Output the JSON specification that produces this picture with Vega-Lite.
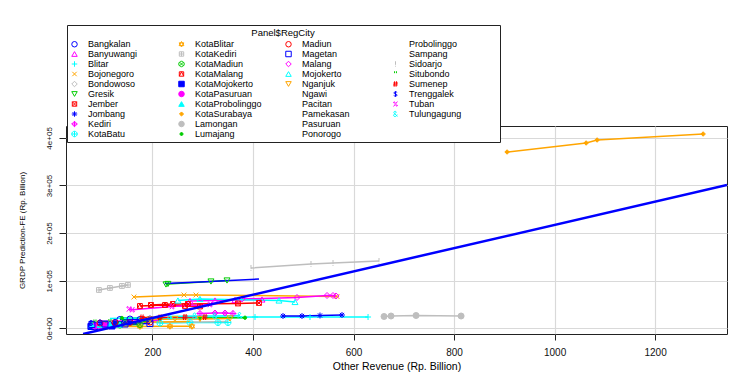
{
  "$schema": "https://vega.github.io/schema/vega-lite/v6.json",
  "width": 661,
  "height": 208,
  "autosize": "none",
  "padding": {"left": 66, "top": 126, "right": 18, "bottom": 42},
  "background": "white",
  "config": {
    "view": {"stroke": "#222", "strokeWidth": 1},
    "font": "Liberation Sans",
    "axis": {"gridColor": "#D9D9D9", "gridWidth": 1.2, "domain": false, "tickColor": "#222", "labelColor": "#111", "titleColor": "#000", "titleFontWeight": "normal", "labelFont": "Liberation Sans", "titleFont": "Liberation Sans"}
  },
  "datasets": {
    "d": [
      {"c": "Bangkalan", "x": 135.3, "y": 18500}, {"c": "Bangkalan", "x": 155.2, "y": 19500}, {"c": "Bangkalan", "x": 175.1, "y": 18500}, {"c": "Bangkalan", "x": 195, "y": 19500},
      {"c": "Banyuwangi", "x": 274.6, "y": 57400}, {"c": "Banyuwangi", "x": 324.4, "y": 58400}, {"c": "Banyuwangi", "x": 364.2, "y": 59500}, {"c": "Banyuwangi", "x": 417.9, "y": 60500},
      {"c": "Blitar", "x": 294.5, "y": 22700}, {"c": "Blitar", "x": 404, "y": 23700}, {"c": "Blitar", "x": 513.4, "y": 23700}, {"c": "Blitar", "x": 628.9, "y": 23700},
      {"c": "Bojonegoro", "x": 163.2, "y": 65800}, {"c": "Bojonegoro", "x": 262.7, "y": 70000}, {"c": "Bojonegoro", "x": 286.6, "y": 70000}, {"c": "Bojonegoro", "x": 567.2, "y": 66800},
      {"c": "Bondowoso", "x": 85.6, "y": 10100}, {"c": "Bondowoso", "x": 115.4, "y": 11100}, {"c": "Bondowoso", "x": 145.3, "y": 11100}, {"c": "Bondowoso", "x": 175.1, "y": 12200},
      {"c": "Gresik", "x": 226.9, "y": 92000}, {"c": "Gresik", "x": 230.8, "y": 93100}, {"c": "Gresik", "x": 316.4, "y": 98300}, {"c": "Gresik", "x": 348.3, "y": 100400},
      {"c": "Jember", "x": 197, "y": 49000}, {"c": "Jember", "x": 240.8, "y": 51100}, {"c": "Jember", "x": 270.6, "y": 51100}, {"c": "Jember", "x": 370.1, "y": 52100}, {"c": "Jember", "x": 411.9, "y": 53200},
      {"c": "Jombang", "x": 459.7, "y": 25800}, {"c": "Jombang", "x": 497.5, "y": 25800}, {"c": "Jombang", "x": 533.3, "y": 26900}, {"c": "Jombang", "x": 577.1, "y": 27900},
      {"c": "Kediri", "x": 294.5, "y": 31100}, {"c": "Kediri", "x": 324.4, "y": 32100}, {"c": "Kediri", "x": 344.3, "y": 32100}, {"c": "Kediri", "x": 360.2, "y": 31100},
      {"c": "KotaBatu", "x": 214.9, "y": 11100}, {"c": "KotaBatu", "x": 274.6, "y": 12200}, {"c": "KotaBatu", "x": 330.3, "y": 12200}, {"c": "KotaBatu", "x": 350.2, "y": 12200},
      {"c": "KotaBlitar", "x": 109.5, "y": 3800}, {"c": "KotaBlitar", "x": 175.1, "y": 3800}, {"c": "KotaBlitar", "x": 234.8, "y": 4200}, {"c": "KotaBlitar", "x": 278.6, "y": 4200},
      {"c": "KotaKediri", "x": 93.5, "y": 80500}, {"c": "KotaKediri", "x": 115.4, "y": 84700}, {"c": "KotaKediri", "x": 139.3, "y": 88900}, {"c": "KotaKediri", "x": 151.2, "y": 91000},
      {"c": "KotaMadiun", "x": 79.6, "y": 5900}, {"c": "KotaMadiun", "x": 105.5, "y": 6900}, {"c": "KotaMadiun", "x": 135.3, "y": 6900}, {"c": "KotaMadiun", "x": 175.1, "y": 8000},
      {"c": "KotaMalang", "x": 175.1, "y": 46900}, {"c": "KotaMalang", "x": 224.9, "y": 49000}, {"c": "KotaMalang", "x": 264.7, "y": 46900}, {"c": "KotaMalang", "x": 294.5, "y": 45800},
      {"c": "KotaMojokerto", "x": 77.6, "y": 3800}, {"c": "KotaMojokerto", "x": 85.6, "y": 3800}, {"c": "KotaMojokerto", "x": 99.5, "y": 4800}, {"c": "KotaMojokerto", "x": 119.4, "y": 4800},
      {"c": "KotaPasuruan", "x": 85.6, "y": 4800}, {"c": "KotaPasuruan", "x": 95.5, "y": 4800}, {"c": "KotaPasuruan", "x": 103.5, "y": 5900}, {"c": "KotaPasuruan", "x": 111.4, "y": 5900},
      {"c": "KotaProbolinggo", "x": 79.6, "y": 6900}, {"c": "KotaProbolinggo", "x": 95.5, "y": 6900}, {"c": "KotaProbolinggo", "x": 115.4, "y": 8000}, {"c": "KotaProbolinggo", "x": 135.3, "y": 8000},
      {"c": "KotaSurabaya", "x": 905.5, "y": 370400}, {"c": "KotaSurabaya", "x": 1062.7, "y": 389300}, {"c": "KotaSurabaya", "x": 1084.6, "y": 395600}, {"c": "KotaSurabaya", "x": 1295.5, "y": 408200},
      {"c": "Lamongan", "x": 660.7, "y": 24800}, {"c": "Lamongan", "x": 674.6, "y": 25800}, {"c": "Lamongan", "x": 724.4, "y": 26900}, {"c": "Lamongan", "x": 814, "y": 25800},
      {"c": "Lumajang", "x": 139.3, "y": 21600}, {"c": "Lumajang", "x": 214.9, "y": 21100}, {"c": "Lumajang", "x": 294.5, "y": 21600}, {"c": "Lumajang", "x": 384.1, "y": 22100},
      {"c": "Madiun", "x": 95.5, "y": 11100}, {"c": "Madiun", "x": 125.4, "y": 12200}, {"c": "Madiun", "x": 155.2, "y": 12200}, {"c": "Madiun", "x": 195, "y": 13200},
      {"c": "Magetan", "x": 79.6, "y": 8000}, {"c": "Magetan", "x": 105.5, "y": 9000}, {"c": "Magetan", "x": 145.3, "y": 9000}, {"c": "Magetan", "x": 195, "y": 10100},
      {"c": "Malang", "x": 378.1, "y": 61600}, {"c": "Malang", "x": 487.6, "y": 64700}, {"c": "Malang", "x": 547.3, "y": 68900}, {"c": "Malang", "x": 559.2, "y": 68900}, {"c": "Malang", "x": 565.2, "y": 67900},
      {"c": "Mojokerto", "x": 250.7, "y": 58400}, {"c": "Mojokerto", "x": 294.5, "y": 61600}, {"c": "Mojokerto", "x": 451.7, "y": 58400}, {"c": "Mojokerto", "x": 483.6, "y": 55300},
      {"c": "Nganjuk", "x": 195, "y": 18500}, {"c": "Nganjuk", "x": 244.8, "y": 19500}, {"c": "Nganjuk", "x": 294.5, "y": 19500}, {"c": "Nganjuk", "x": 354.2, "y": 20600},
      {"c": "Ngawi", "x": 195, "y": 12200}, {"c": "Ngawi", "x": 244.8, "y": 13200}, {"c": "Ngawi", "x": 294.5, "y": 13200}, {"c": "Ngawi", "x": 350.2, "y": 14300},
      {"c": "Pacitan", "x": 81.6, "y": 9000}, {"c": "Pacitan", "x": 105.5, "y": 10100}, {"c": "Pacitan", "x": 135.3, "y": 10100}, {"c": "Pacitan", "x": 165.2, "y": 11100},
      {"c": "Pamekasan", "x": 79.6, "y": 9000}, {"c": "Pamekasan", "x": 95.5, "y": 10100}, {"c": "Pamekasan", "x": 119.4, "y": 10100}, {"c": "Pamekasan", "x": 145.3, "y": 11100},
      {"c": "Pasuruan", "x": 224.9, "y": 94100}, {"c": "Pasuruan", "x": 294.5, "y": 97300}, {"c": "Pasuruan", "x": 354.2, "y": 100400}, {"c": "Pasuruan", "x": 411.9, "y": 103600},
      {"c": "Ponorogo", "x": 95.5, "y": 14300}, {"c": "Ponorogo", "x": 135.3, "y": 15300}, {"c": "Ponorogo", "x": 175.1, "y": 15300}, {"c": "Ponorogo", "x": 214.9, "y": 16400},
      {"c": "Probolinggo", "x": 115.4, "y": 20600}, {"c": "Probolinggo", "x": 175.1, "y": 21600}, {"c": "Probolinggo", "x": 234.8, "y": 21600}, {"c": "Probolinggo", "x": 294.5, "y": 22700},
      {"c": "Sampang", "x": 105.5, "y": 12200}, {"c": "Sampang", "x": 155.2, "y": 13200}, {"c": "Sampang", "x": 214.9, "y": 13200}, {"c": "Sampang", "x": 274.6, "y": 14300},
      {"c": "Sidoarjo", "x": 396, "y": 126700}, {"c": "Sidoarjo", "x": 515.4, "y": 135100}, {"c": "Sidoarjo", "x": 559.2, "y": 137200}, {"c": "Sidoarjo", "x": 650.7, "y": 141400},
      {"c": "Situbondo", "x": 85.6, "y": 12200}, {"c": "Situbondo", "x": 115.4, "y": 13200}, {"c": "Situbondo", "x": 145.3, "y": 13200}, {"c": "Situbondo", "x": 191, "y": 14300},
      {"c": "Sumenep", "x": 179.1, "y": 22700}, {"c": "Sumenep", "x": 214.9, "y": 22700}, {"c": "Sumenep", "x": 264.7, "y": 23700}, {"c": "Sumenep", "x": 304.5, "y": 23700},
      {"c": "Trenggalek", "x": 77.6, "y": 11100}, {"c": "Trenggalek", "x": 95.5, "y": 12200}, {"c": "Trenggalek", "x": 125.4, "y": 13200}, {"c": "Trenggalek", "x": 155.2, "y": 13200},
      {"c": "Tuban", "x": 153.2, "y": 40600}, {"c": "Tuban", "x": 160, "y": 39000}, {"c": "Tuban", "x": 238.8, "y": 45800}, {"c": "Tuban", "x": 314.4, "y": 50000},
      {"c": "Tulungagung", "x": 234.8, "y": 24800}, {"c": "Tulungagung", "x": 284.6, "y": 25800}, {"c": "Tulungagung", "x": 324.4, "y": 25800}, {"c": "Tulungagung", "x": 374.1, "y": 26900}
    ],
    "reg": [{"x": 62, "y": -12000}, {"x": 1343, "y": 301100}]
  },
  "layer": [
    {
      "data": {"name": "d"},
      "mark": {"type": "line", "strokeWidth": 1.5, "clip": true},
      "encoding": {
        "x": {"field": "x", "type": "quantitative", "scale": {"domain": [28, 1343], "nice": false, "zero": false},
          "axis": {"values": [200, 400, 600, 800, 1000, 1200], "format": "d", "grid": true, "tickSize": 6, "labelFontSize": 10, "labelPadding": 7, "title": "Other Revenue (Rp. Billion)", "titleFontSize": 10.5, "titlePadding": 4}},
        "y": {"field": "y", "type": "quantitative", "scale": {"domain": [-12000, 425000], "nice": false, "zero": false},
          "axis": {"values": [0, 100000, 200000, 300000, 400000], "grid": true, "tickSize": 7, "labelFontSize": 8, "labelAngle": 270, "labelAlign": "center", "labelBaseline": "bottom", "labelPadding": 6,
            "labelExpr": "datum.value == 0 ? '0e+00' : format(datum.value / 100000, 'd') + 'e+05'",
            "title": "GRDP Prediction-FE (Rp. Billion)", "titleFontSize": 8, "titlePadding": 19, "titleColor": "#000"}},
        "stroke": {"field": "c", "type": "nominal", "legend": null,
          "scale": {
            "domain": ["Tulungagung", "Tuban", "Trenggalek", "Sumenep", "Situbondo", "Sidoarjo", "Sampang", "Probolinggo", "Ponorogo", "Pasuruan", "Pamekasan", "Pacitan", "Ngawi", "Nganjuk", "Mojokerto", "Malang", "Magetan", "Madiun", "Lumajang", "Lamongan", "KotaSurabaya", "KotaProbolinggo", "KotaPasuruan", "KotaMojokerto", "KotaMalang", "KotaMadiun", "KotaKediri", "KotaBlitar", "KotaBatu", "Kediri", "Jombang", "Jember", "Gresik", "Bondowoso", "Bojonegoro", "Blitar", "Banyuwangi", "Bangkalan"],
            "range": ["#00FFFF", "#FF00FF", "#0000FF", "#FF0000", "#00CD00", "#BEBEBE", "#FFA500", "#00FFFF", "#FF00FF", "#0000FF", "#FF0000", "#00CD00", "#BEBEBE", "#FFA500", "#00FFFF", "#FF00FF", "#0000FF", "#FF0000", "#00CD00", "#BEBEBE", "#FFA500", "#00FFFF", "#FF00FF", "#0000FF", "#FF0000", "#00CD00", "#BEBEBE", "#FFA500", "#00FFFF", "#FF00FF", "#0000FF", "#FF0000", "#00CD00", "#BEBEBE", "#FFA500", "#00FFFF", "#FF00FF", "#0000FF"]
          }}
      }
    },
    {
      "data": {"name": "d"},
      "mark": {"type": "point", "filled": false, "opacity": 1, "size": 36, "strokeWidth": 1, "clip": true},
      "encoding": {
        "x": {"field": "x", "type": "quantitative"},
        "y": {"field": "y", "type": "quantitative"},
        "color": {"field": "c", "type": "nominal",
          "scale": {
            "domain": ["Bangkalan", "Banyuwangi", "Blitar", "Bojonegoro", "Bondowoso", "Gresik", "Jember", "Jombang", "Kediri", "KotaBatu", "KotaBlitar", "KotaKediri", "KotaMadiun", "KotaMalang", "KotaMojokerto", "KotaPasuruan", "KotaProbolinggo", "KotaSurabaya", "Lamongan", "Lumajang", "Madiun", "Magetan", "Malang", "Mojokerto", "Nganjuk", "Ngawi", "Pacitan", "Pamekasan", "Pasuruan", "Ponorogo", "Probolinggo", "Sampang", "Sidoarjo", "Situbondo", "Sumenep", "Trenggalek", "Tuban", "Tulungagung", " "],
            "range": ["#0000FF", "#FF00FF", "#00FFFF", "#FFA500", "#BEBEBE", "#00CD00", "#FF0000", "#0000FF", "#FF00FF", "#00FFFF", "#FFA500", "#BEBEBE", "#00CD00", "#FF0000", "#0000FF", "#FF00FF", "#00FFFF", "#FFA500", "#BEBEBE", "#00CD00", "#FF0000", "#0000FF", "#FF00FF", "#00FFFF", "#FFA500", "#BEBEBE", "#00CD00", "#FF0000", "#0000FF", "#FF00FF", "#00FFFF", "#FFA500", "#BEBEBE", "#00CD00", "#FF0000", "#0000FF", "#FF00FF", "#00FFFF", "transparent"]
          },
          "legend": {
            "title": "Panel$RegCity", "orient": "none", "legendX": 1, "legendY": -101, "direction": "vertical",
            "columns": 4, "gridAlign": "all", "columnPadding": 0, "rowPadding": -2, "symbolLimit": 50,
            "padding": 3, "fillColor": "white", "strokeColor": "#222", "cornerRadius": 0,
            "symbolSize": 30, "symbolStrokeWidth": 1, "symbolFillColor": "transparent", "symbolOpacity": 1,
            "labelFont": "Liberation Sans", "labelFontSize": 9, "labelOffset": 9, "labelColor": "#000", "labelLimit": 300,
            "labelExpr": "datum.label == 'Tulungagung' ? 'Tulungagung\u00a0\u00a0\u00a0\u00a0\u00a0\u00a0\u00a0\u00a0\u00a0\u00a0\u00a0\u00a0\u00a0\u00a0\u200b' : datum.label",
            "titleFont": "Liberation Sans", "titleFontSize": 9.5, "titleFontWeight": "normal", "titleAnchor": "middle", "titlePadding": 2, "titleColor": "#000",
            "zindex": 1
          }},
        "fill": {"field": "c", "type": "nominal",
          "scale": {
            "domain": ["Bangkalan", "Banyuwangi", "Blitar", "Bojonegoro", "Bondowoso", "Gresik", "Jember", "Jombang", "Kediri", "KotaBatu", "KotaBlitar", "KotaKediri", "KotaMadiun", "KotaMalang", "KotaMojokerto", "KotaPasuruan", "KotaProbolinggo", "KotaSurabaya", "Lamongan", "Lumajang", "Madiun", "Magetan", "Malang", "Mojokerto", "Nganjuk", "Ngawi", "Pacitan", "Pamekasan", "Pasuruan", "Ponorogo", "Probolinggo", "Sampang", "Sidoarjo", "Situbondo", "Sumenep", "Trenggalek", "Tuban", "Tulungagung", " "],
            "range": ["transparent", "transparent", "transparent", "transparent", "transparent", "transparent", "transparent", "transparent", "transparent", "transparent", "transparent", "transparent", "transparent", "transparent", "#0000FF", "#FF00FF", "#00FFFF", "#FFA500", "#BEBEBE", "#00CD00", "transparent", "transparent", "transparent", "transparent", "transparent", "transparent", "transparent", "transparent", "transparent", "transparent", "transparent", "transparent", "transparent", "transparent", "transparent", "transparent", "transparent", "transparent", "transparent"]
          }},
        "shape": {"field": "c", "type": "nominal",
          "scale": {
            "domain": ["Bangkalan", "Banyuwangi", "Blitar", "Bojonegoro", "Bondowoso", "Gresik", "Jember", "Jombang", "Kediri", "KotaBatu", "KotaBlitar", "KotaKediri", "KotaMadiun", "KotaMalang", "KotaMojokerto", "KotaPasuruan", "KotaProbolinggo", "KotaSurabaya", "Lamongan", "Lumajang", "Madiun", "Magetan", "Malang", "Mojokerto", "Nganjuk", "Ngawi", "Pacitan", "Pamekasan", "Pasuruan", "Ponorogo", "Probolinggo", "Sampang", "Sidoarjo", "Situbondo", "Sumenep", "Trenggalek", "Tuban", "Tulungagung", " "],
            "range": [
              "circle",
              "triangle-up",
              "M-1,0H1M0,-1V1",
              "M-0.8,-0.8L0.8,0.8M-0.8,0.8L0.8,-0.8",
              "diamond",
              "triangle-down",
              "M-0.8,-0.8H0.8V0.8H-0.8ZM-0.8,-0.8L0.8,0.8M-0.8,0.8L0.8,-0.8",
              "M-1,0H1M0,-1V1M-0.7,-0.7L0.7,0.7M-0.7,0.7L0.7,-0.7",
              "M0,-1L1,0L0,1L-1,0ZM-1,0H1M0,-1V1",
              "M-1,0A1,1,0,1,0,1,0A1,1,0,1,0,-1,0ZM-1,0H1M0,-1V1",
              "M0,-1L0.87,0.5L-0.87,0.5ZM0,1L0.87,-0.5L-0.87,-0.5Z",
              "M-0.8,-0.8H0.8V0.8H-0.8ZM-0.8,0H0.8M0,-0.8V0.8",
              "M-1,0A1,1,0,1,0,1,0A1,1,0,1,0,-1,0ZM-0.7,-0.7L0.7,0.7M-0.7,0.7L0.7,-0.7",
              "M-0.8,-0.8H0.8V0.8H-0.8ZM-0.8,0.8L0,-0.8L0.8,0.8",
              "square",
              "circle",
              "triangle-up",
              "M0,-0.75L0.75,0L0,0.75L-0.75,0Z",
              "circle",
              "M-0.55,0A0.55,0.55,0,1,0,0.55,0A0.55,0.55,0,1,0,-0.55,0Z",
              "circle",
              "square",
              "diamond",
              "triangle-up",
              "triangle-down",
              "M0,0",
              "M0,0",
              "M0,0",
              "M0,0",
              "M0,0",
              "M0,0",
              "M0,0",
              "M0,-1V0.3M0,0.65V0.95",
              "M-0.35,-1V-0.3M0.35,-1V-0.3",
              "M-0.3,-1L-0.5,1M0.4,-1L0.2,1M-0.8,-0.35L0.9,-0.35M-0.9,0.35L0.8,0.35",
              "M0.6,-0.6C0.4,-0.85,-0.6,-0.85,-0.6,-0.35C-0.6,0.05,0.6,-0.05,0.6,0.4C0.6,0.85,-0.4,0.85,-0.65,0.55M0,-1V1",
              "M0.7,-0.9L-0.7,0.9M-0.7,-0.55A0.25,0.25,0,1,0,-0.2,-0.55A0.25,0.25,0,1,0,-0.7,-0.55ZM0.2,0.55A0.25,0.25,0,1,0,0.7,0.55A0.25,0.25,0,1,0,0.2,0.55Z",
              "M0.7,0.9L-0.4,-0.2C-0.8,-0.6,-0.5,-1,-0.15,-1C0.2,-1,0.4,-0.6,0,-0.3L-0.5,0.1C-0.9,0.5,-0.6,0.95,-0.2,0.95C0.2,0.95,0.5,0.6,0.6,0.2",
              "M0,0"
            ]
          }}
      }
    },
    {
      "data": {"name": "reg"},
      "mark": {"type": "line", "color": "#0000FF", "strokeWidth": 2.5, "clip": true},
      "encoding": {
        "x": {"field": "x", "type": "quantitative"},
        "y": {"field": "y", "type": "quantitative"}
      }
    }
  ]
}
